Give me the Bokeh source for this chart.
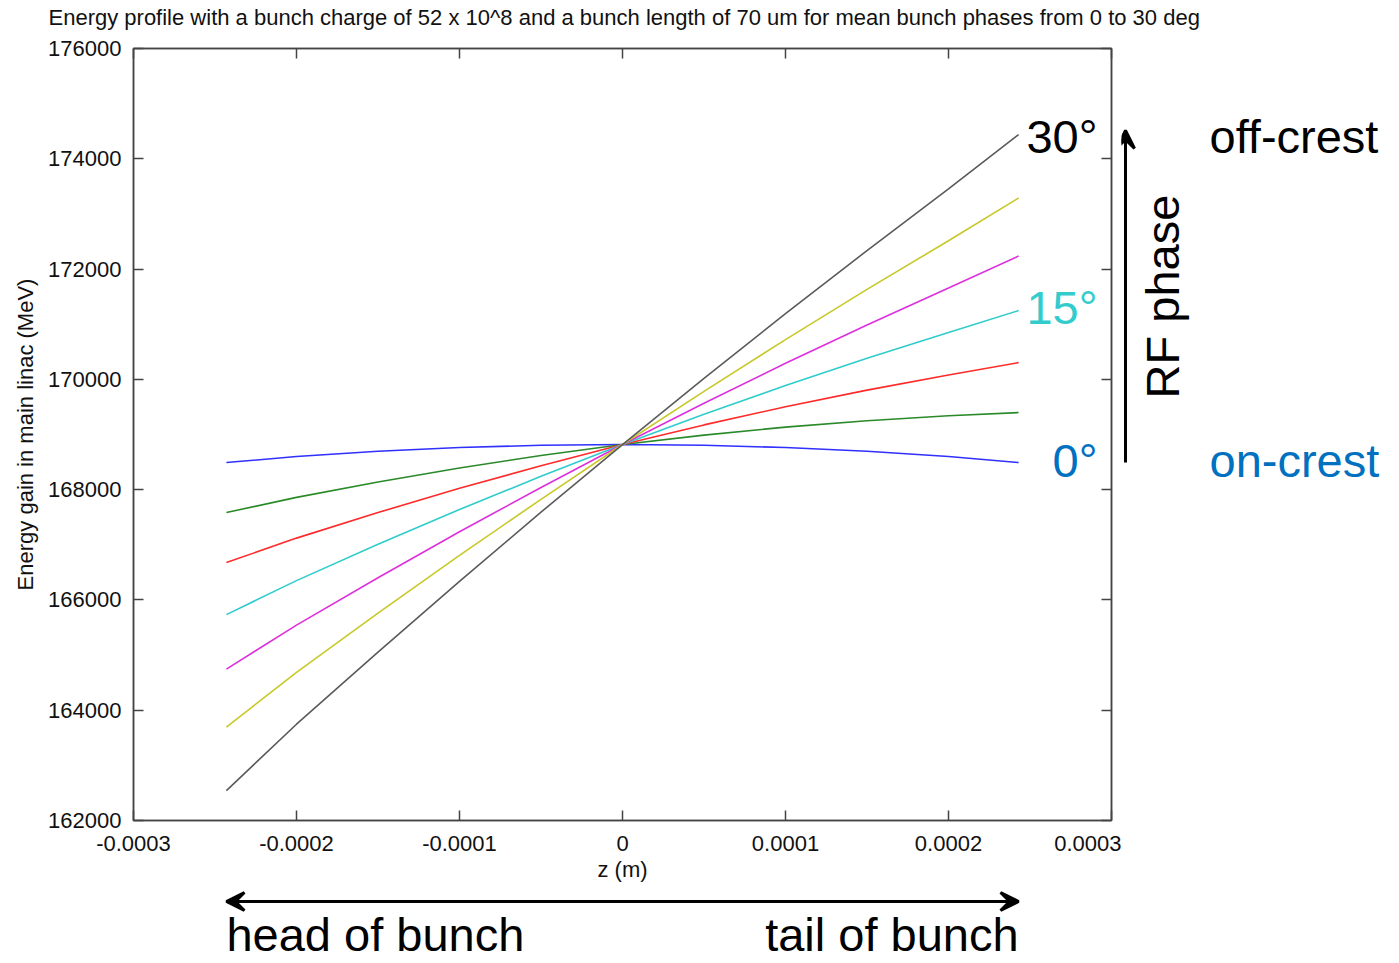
from bokeh.plotting import figure
from bokeh.models import FixedTicker, LinearAxis, Label, Arrow, VeeHead, Range1d
from bokeh.layouts import row, column
from bokeh.embed import file_html
from bokeh.resources import INLINE
import math

# ---- data ----
z = [-0.000243, -0.0002, -0.00015, -0.0001, -0.00005, 0.0, 0.00005, 0.0001, 0.00015, 0.0002, 0.000243]
phase_0 = [168491, 168600, 168695, 168764, 168804, 168818, 168804, 168764, 168695, 168600, 168491]
phase_5 = [167584, 167860, 168140, 168394, 168619, 168818, 168989, 169134, 169250, 169340, 169398]
phase_10 = [166678, 167121, 167585, 168024, 168434, 168818, 169174, 169504, 169805, 170079, 170304]
phase_15 = [165734, 166350, 167008, 167639, 168242, 168818, 169366, 169889, 170382, 170850, 171248]
phase_20 = [164746, 165544, 166403, 167236, 168040, 168818, 169568, 170292, 170987, 171656, 172236]
phase_25 = [163694, 164686, 165759, 166807, 167825, 168818, 169783, 170721, 171631, 172514, 173288]
phase_30 = [162543, 163746, 165055, 166337, 167591, 168818, 170017, 171191, 172335, 173454, 174439]
series = [phase_0, phase_5, phase_10, phase_15, phase_20, phase_25, phase_30]
colors = ["#3030ff", "#2a8a2a", "#ff2a2a", "#30cccc", "#dd30dd", "#c8c828", "#5a5a5a"]

x_ticks = [-0.0003, -0.0002, -0.0001, 0.0, 0.0001, 0.0002, 0.0003]
x_tick_labels = ["-0.0003", "-0.0002", "-0.0001", "0", "0.0001", "0.0002", "0.0003"]
y_ticks = [162000, 164000, 166000, 168000, 170000, 172000, 174000, 176000]
y_tick_labels = ["162000", "164000", "166000", "168000", "170000", "172000", "174000", "176000"]

title_text = ("Energy profile with a bunch charge of 52 x 10^8 and a bunch length of 70 um "
              "for mean bunch phases from 0 to 30 deg")

# ---- layout (page pixels) ----
X0, X1 = -0.0003, 0.0003
Y0, Y1 = 162000, 176000
HT = 34                 # title strip
BL, BR, BT, BB = 133, 10, 14, 65
FW, FH = 978, 772
WM, HM = BL + FW + BR, BT + FH + BB
HB = 77                 # strip below the chart
WS = 270                # strip at the right
HS = HM + HB
TOP = HT + BT           # page y of the frame top

def dx(px):  # page pixel -> data x of the chart
    return X0 + (px - BL) / FW * (X1 - X0)

def dy(py):  # page pixel -> data y of the chart
    return Y1 - (py - TOP) / FH * (Y1 - Y0)

FONT = "Liberation Sans"
AX = "#444444"
big = "47px"

p = figure(width=WM, height=HM, x_range=(X0, X1), y_range=(Y0, Y1),
           output_backend="svg", toolbar_location=None,
           min_border_left=BL, min_border_right=BR, min_border_top=BT, min_border_bottom=BB,
           x_axis_label="z (m)", y_axis_label="Energy gain in main linac (MeV)")
p.grid.visible = False
p.outline_line_color = AX
p.outline_line_width = 1.5

for ax in (p.xaxis[0], p.yaxis[0]):
    ax.axis_line_color = AX
    ax.axis_line_width = 1.5
    ax.major_tick_in = 10
    ax.major_tick_out = 0
    ax.major_tick_line_color = AX
    ax.major_tick_line_width = 1.5
    ax.minor_tick_line_color = None
    ax.major_label_text_font = FONT
    ax.major_label_text_font_size = "22px"
    ax.major_label_text_color = "#111111"
    ax.axis_label_text_font = FONT
    ax.axis_label_text_font_size = "22px"
    ax.axis_label_text_font_style = "normal"
    ax.axis_label_text_color = "#111111"

p.xaxis.ticker = FixedTicker(ticks=x_ticks)
p.xaxis.major_label_overrides = dict(zip(x_ticks, x_tick_labels))
p.xaxis.major_label_standoff = 15
p.xaxis.axis_label_standoff = 3
p.yaxis.ticker = FixedTicker(ticks=y_ticks)
p.yaxis.major_label_overrides = dict(zip(y_ticks, y_tick_labels))
p.yaxis.major_label_standoff = 12
p.yaxis.axis_label_standoff = 7

# mirrored ticks on top and right
for loc, ticks in (("above", x_ticks), ("right", y_ticks)):
    a = LinearAxis(ticker=FixedTicker(ticks=ticks), major_label_text_color=None,
                   major_label_text_font_size="0px",
                   major_tick_in=10, major_tick_out=0, minor_tick_line_color=None,
                   axis_line_color=AX, major_tick_line_color=AX,
                   major_tick_line_width=1.5, axis_line_width=1.5, major_label_standoff=0)
    p.add_layout(a, loc)

for ys, c in zip(series, colors):
    p.line(z, ys, line_color=c, line_width=1.6)

def lab(fig, x, y, text, color, align, angle=0.0, size=big):
    fig.add_layout(Label(x=x, y=y, text=text, text_font=FONT, text_font_size=size,
                         text_color=color, text_align=align, text_baseline="middle",
                         angle=angle))

lab(p, dx(1097), dy(136), "30°", "black", "right")
lab(p, dx(1097), dy(307), "15°", "#33cccc", "right")
lab(p, dx(1097), dy(460), "0°", "#0070c0", "right")

def strip(width, height, x_range, y_top):
    f = figure(width=width, height=height, output_backend="svg", toolbar_location=None,
               x_range=x_range, y_range=Range1d(y_top + height, y_top),
               min_border=0, x_axis_type=None, y_axis_type=None)
    f.grid.visible = False
    f.outline_line_color = None
    return f

# title strip: page pixels
t = strip(WM + WS, HT, Range1d(0, WM + WS), 0)
lab(t, 48, 17, title_text, "#111111", "left", size="22px")

# strip below: its frame lines up with the chart's frame, so it shares the z scale
b = strip(WM, HB, Range1d(X0, X1), HT + HM)
b.add_layout(Arrow(x_start=z[0], y_start=901, x_end=z[-1], y_end=901,
                   line_width=3, line_color="black",
                   start=VeeHead(size=18, line_width=3, line_color="black"),
                   end=VeeHead(size=18, line_width=3, line_color="black")))
lab(b, z[0], 934, "head of bunch", "black", "left", size="47px")
lab(b, z[-1], 934, "tail of bunch", "black", "right", size="47px")

# strip at the right: page pixels
s = strip(WS, HS, Range1d(WM, WM + WS), HT)
s.add_layout(Arrow(x_start=1125, y_start=462, x_end=1125, y_end=130,
                   line_width=3, line_color="black",
                   end=VeeHead(size=18, line_width=3, line_color="black")))
lab(s, 1209, 136, "off-crest", "black", "left")
lab(s, 1209, 460, "on-crest", "#0070c0", "left")
lab(s, 1162, 296, "RF phase", "black", "center", angle=math.pi / 2)

layout = column(t, row(column(p, b), s))
open("out.html", "w").write(file_html(layout, INLINE))
